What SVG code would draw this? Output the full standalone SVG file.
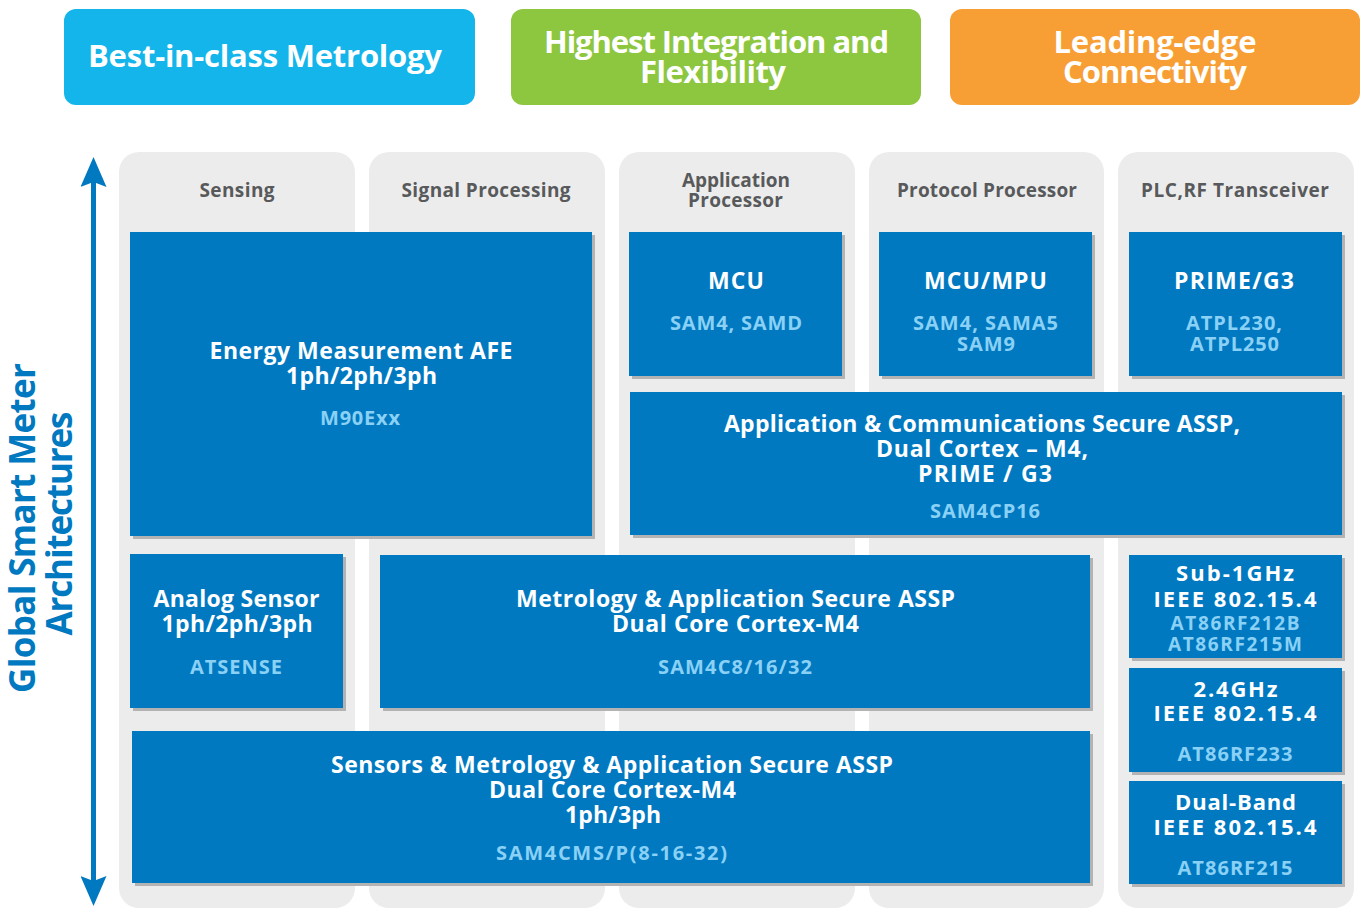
<svg xmlns="http://www.w3.org/2000/svg" width="1360" height="909" viewBox="0 0 1360 909">
<defs>
<style>
text{font-family:"Open Sans","Liberation Sans",sans-serif;font-weight:700;text-anchor:middle}
.col{fill:#ececec}
.hdr{fill:#58595b;font-size:19px}
.box{fill:#0079c1}
.shd{fill:#b3b3b3}
.t{fill:#ffffff;font-size:23px}
.t2{fill:#ffffff;font-size:22px}
.s{fill:#8ad1f5;font-size:20px}
.s2{fill:#8ad1f5;font-size:19px}
.ban{fill:#ffffff;font-size:31px}
.axis{fill:#0079c1;font-size:35px}
</style>
<marker id="ah" viewBox="0 0 30 26" markerWidth="30" markerHeight="26" refX="12" refY="13" orient="auto-start-reverse" markerUnits="userSpaceOnUse">
<path d="M0,0 L30,13 L0,26 L5,13 Z" fill="#0079c1"/>
</marker>
</defs>
<rect width="1360" height="909" fill="#ffffff"/>

<g id="banner-metrology">
<rect x="64" y="9" width="411" height="96" rx="12" fill="#13b5ea"/>
<text class="ban" x="265" y="67" textLength="354">Best-in-class Metrology</text>
</g>
<g id="banner-integration">
<rect x="511" y="9" width="410" height="96" rx="12" fill="#8dc63f"/>
<text class="ban"><tspan x="716.5" y="52.5" textLength="345">Highest Integration and</tspan><tspan x="713" y="83" textLength="146">Flexibility</tspan></text>
</g>
<g id="banner-connectivity">
<rect x="950" y="9" width="410" height="96" rx="12" fill="#f79e34"/>
<text class="ban"><tspan x="1155" y="52.5" textLength="203">Leading-edge</tspan><tspan x="1155" y="83" textLength="184">Connectivity</tspan></text>
</g>

<g id="col-sensing">
<rect class="col" x="119" y="152" width="236" height="756" rx="20"/>
<text class="hdr" x="237" y="197" textLength="75">Sensing</text>
</g>
<g id="col-signal">
<rect class="col" x="369" y="152" width="236" height="756" rx="20"/>
<text class="hdr" x="486" y="197" textLength="169">Signal Processing</text>
</g>
<g id="col-app">
<rect class="col" x="619" y="152" width="236" height="756" rx="20"/>
<text class="hdr"><tspan x="736" y="186.5" textLength="108">Application</tspan><tspan x="735.5" y="207" textLength="95">Processor</tspan></text>
</g>
<g id="col-protocol">
<rect class="col" x="869" y="152" width="235" height="756" rx="20"/>
<text class="hdr" x="987" y="197" textLength="180">Protocol Processor</text>
</g>
<g id="col-plc">
<rect class="col" x="1118" y="152" width="236" height="756" rx="20"/>
<text class="hdr" x="1235" y="197" textLength="188">PLC,RF Transceiver</text>
</g>

<g id="axis-label">
<text class="axis" transform="rotate(-90)"><tspan x="-528" y="35" textLength="330">Global Smart Meter</tspan><tspan x="-523.5" y="72" textLength="224">Architectures</tspan></text>
</g>

<g id="connectors">
<line x1="93.5" y1="175" x2="93.5" y2="888" stroke="#0079c1" stroke-width="5" marker-start="url(#ah)" marker-end="url(#ah)"/>
</g>

<g id="node-energy">
<rect class="shd" x="133" y="235" width="462" height="304"/>
<rect class="box" x="130" y="232" width="462" height="304"/>
<text class="t"><tspan x="361" y="358.5" textLength="303">Energy Measurement AFE</tspan><tspan x="361.5" y="383.5" textLength="151">1ph/2ph/3ph</tspan><tspan class="s" x="360" y="425" textLength="80">M90Exx</tspan></text>
</g>
<g id="node-mcu">
<rect class="shd" x="632" y="235" width="213" height="144"/>
<rect class="box" x="629" y="232" width="213" height="144"/>
<text class="t"><tspan x="736" y="289" textLength="56">MCU</tspan><tspan class="s" x="736" y="329.5" textLength="132">SAM4, SAMD</tspan></text>
</g>
<g id="node-mcumpu">
<rect class="shd" x="882" y="235" width="213" height="144"/>
<rect class="box" x="879" y="232" width="213" height="144"/>
<text class="t"><tspan x="985.5" y="289" textLength="123">MCU/MPU</tspan><tspan class="s" x="985.5" y="329.5" textLength="145">SAM4, SAMA5</tspan><tspan class="s" x="986" y="350.5" textLength="58">SAM9</tspan></text>
</g>
<g id="node-prime">
<rect class="shd" x="1132" y="235" width="213" height="144"/>
<rect class="box" x="1129" y="232" width="213" height="144"/>
<text class="t"><tspan x="1234" y="289" textLength="120">PRIME/G3</tspan><tspan class="s" x="1234" y="329.5" textLength="96">ATPL230,</tspan><tspan class="s" x="1234.5" y="350.5" textLength="89">ATPL250</tspan></text>
</g>
<g id="node-appcomm">
<rect class="shd" x="633" y="395" width="712" height="143"/>
<rect class="box" x="630" y="392" width="712" height="143"/>
<text class="t"><tspan x="982" y="432" textLength="516">Application &amp; Communications Secure ASSP,</tspan><tspan x="982" y="457" textLength="212">Dual Cortex – M4,</tspan><tspan x="985" y="482" textLength="134">PRIME / G3</tspan><tspan class="s" x="985" y="518" textLength="110">SAM4CP16</tspan></text>
</g>
<g id="node-analog">
<rect class="shd" x="133" y="557" width="213" height="154"/>
<rect class="box" x="130" y="554" width="213" height="154"/>
<text class="t"><tspan x="236.5" y="607" textLength="166">Analog Sensor</tspan><tspan x="237" y="632" textLength="151">1ph/2ph/3ph</tspan><tspan class="s" x="236" y="673.5" textLength="92">ATSENSE</tspan></text>
</g>
<g id="node-metrology">
<rect class="shd" x="383" y="558" width="710" height="153"/>
<rect class="box" x="380" y="555" width="710" height="153"/>
<text class="t"><tspan x="735.5" y="607" textLength="439">Metrology &amp; Application Secure ASSP</tspan><tspan x="735.5" y="632" textLength="247">Dual Core Cortex-M4</tspan><tspan class="s" x="735" y="673.5" textLength="154">SAM4C8/16/32</tspan></text>
</g>
<g id="node-sensors">
<rect class="shd" x="135" y="734" width="958" height="152"/>
<rect class="box" x="132" y="731" width="958" height="152"/>
<text class="t"><tspan x="612" y="772.5" textLength="562">Sensors &amp; Metrology &amp; Application Secure ASSP</tspan><tspan x="612.5" y="798" textLength="247">Dual Core Cortex-M4</tspan><tspan x="613" y="823" textLength="96">1ph/3ph</tspan><tspan class="s" x="611.5" y="860" textLength="231">SAM4CMS/P(8-16-32)</tspan></text>
</g>
<g id="node-sub1ghz">
<rect class="shd" x="1132" y="558" width="213" height="103"/>
<rect class="box" x="1129" y="555" width="213" height="103"/>
<text class="t2"><tspan x="1235" y="581" textLength="118">Sub-1GHz</tspan><tspan x="1235" y="606.5" textLength="163">IEEE 802.15.4</tspan><tspan class="s2" x="1235" y="630" textLength="129">AT86RF212B</tspan><tspan class="s2" x="1235" y="650.5" textLength="134">AT86RF215M</tspan></text>
</g>
<g id="node-24ghz">
<rect class="shd" x="1132" y="671" width="213" height="104"/>
<rect class="box" x="1129" y="668" width="213" height="104"/>
<text class="t2"><tspan x="1235.5" y="696.5" textLength="84">2.4GHz</tspan><tspan x="1235" y="721" textLength="163">IEEE 802.15.4</tspan><tspan class="s" x="1235" y="760.5" textLength="115">AT86RF233</tspan></text>
</g>
<g id="node-dualband">
<rect class="shd" x="1132" y="784" width="213" height="103"/>
<rect class="box" x="1129" y="781" width="213" height="103"/>
<text class="t2"><tspan x="1235.5" y="810" textLength="121">Dual-Band</tspan><tspan x="1235" y="835" textLength="163">IEEE 802.15.4</tspan><tspan class="s" x="1235" y="875" textLength="115">AT86RF215</tspan></text>
</g>
</svg>
